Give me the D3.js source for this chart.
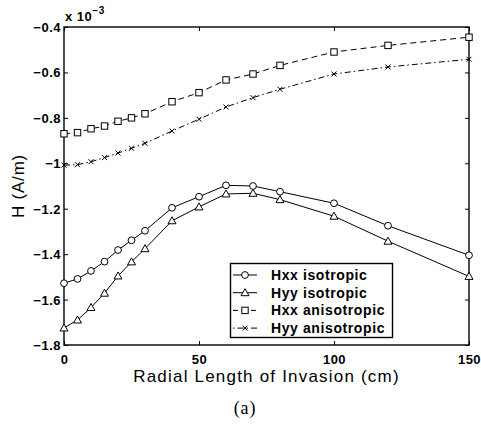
<!DOCTYPE html>
<html><head><meta charset="utf-8">
<script src="https://cdn.jsdelivr.net/npm/d3@7"></script>
<style>
html,body{margin:0;padding:0;background:#fff;}
svg{display:block;}
</style></head>
<body>
<script>
// ---- data ----
const radialLength = [0, 5, 10, 15, 20, 25, 30, 40, 50, 60, 70, 80, 100, 120, 150];
const hxxIsotropic = [-1.528, -1.509, -1.474, -1.433, -1.382, -1.339, -1.297, -1.196, -1.147, -1.097, -1.100, -1.125, -1.176, -1.275, -1.405];
const hyyIsotropic = [-1.725, -1.690, -1.635, -1.572, -1.496, -1.434, -1.376, -1.253, -1.192, -1.135, -1.132, -1.160, -1.233, -1.343, -1.498];
const hxxAnisotropic = [-0.870, -0.865, -0.848, -0.836, -0.815, -0.800, -0.782, -0.729, -0.689, -0.633, -0.607, -0.569, -0.510, -0.481, -0.445];
const hyyAnisotropic = [-1.008, -1.006, -0.993, -0.975, -0.955, -0.934, -0.912, -0.858, -0.806, -0.752, -0.711, -0.674, -0.607, -0.576, -0.542];
const seriesNames = ["Hxx isotropic", "Hyy isotropic", "Hxx anisotropic", "Hyy anisotropic"];
const xTicks = [0, 50, 100, 150];
const yTicks = [-1.8, -1.6, -1.4, -1.2, -1.0, -0.8, -0.6, -0.4];
const yTickLabels = ["\u22121.8", "\u22121.6", "\u22121.4", "\u22121.2", "\u22121", "\u22120.8", "\u22120.6", "\u22120.4"];
const xLabel = "Radial Length of Invasion (cm)";
const yLabel = "H (A/m)";
const caption = "(a)";

// ---- layout ----
const W = 481, H = 428;
const L = 64, R = 469, T = 27, B = 345;
const svg = d3.select("body").append("svg").attr("width", W).attr("height", H);

const x = d3.scaleLinear().domain([0, 150]).range([L, R]);
const y = d3.scaleLinear().domain([-1.8, -0.4]).range([B, T]);

const sansFont = "Liberation Sans, Arial, Helvetica, sans-serif";

// axes box
svg.append("rect").attr("x", L).attr("y", T).attr("width", R - L).attr("height", B - T)
  .attr("fill", "none").attr("stroke", "#000").attr("stroke-width", 1.4);

// axes with inward ticks
const tickLen = 4;
const gx = svg.append("g").attr("transform", `translate(0,${B})`)
  .call(d3.axisBottom(x).tickValues(xTicks).tickSizeInner(-tickLen).tickSizeOuter(0).tickPadding(10));
const gxTop = svg.append("g").attr("transform", `translate(0,${T})`)
  .call(d3.axisTop(x).tickValues(xTicks).tickSizeInner(-tickLen).tickSizeOuter(0).tickFormat(""));
const gy = svg.append("g").attr("transform", `translate(${L},0)`)
  .call(d3.axisLeft(y).tickValues(yTicks).tickSizeInner(-tickLen).tickSizeOuter(0).tickPadding(3)
    .tickFormat((d, i) => yTickLabels[i]));
const gyR = svg.append("g").attr("transform", `translate(${R},0)`)
  .call(d3.axisRight(y).tickValues(yTicks).tickSizeInner(-tickLen).tickSizeOuter(0).tickFormat(""));
[gx, gxTop, gy, gyR].forEach(g => {
  g.select(".domain").remove();
  g.selectAll(".tick line").attr("stroke", "#000").attr("stroke-width", 1);
  g.selectAll("text").attr("font-family", sansFont).attr("font-weight", "bold")
    .attr("font-size", 13).attr("letter-spacing", 0.5).attr("fill", "#000");
});
gx.selectAll("text").attr("dy", "0.71em");
gy.selectAll("text").attr("dy", "0.35em");

// exponent
const expo = svg.append("text").attr("x", 65).attr("y", 21)
  .attr("font-family", sansFont).attr("font-weight", "bold").attr("font-size", 13)
  .attr("letter-spacing", 0.5).attr("fill", "#000");
expo.append("tspan").text("x 10");
expo.append("tspan").attr("dy", -7).attr("font-size", 10).text("\u22123");

// series definitions
const allSeries = [
  {name: seriesNames[0], vals: hxxIsotropic, dash: null, marker: "circle"},
  {name: seriesNames[1], vals: hyyIsotropic, dash: null, marker: "triangle"},
  {name: seriesNames[2], vals: hxxAnisotropic, dash: "6,4", marker: "square"},
  {name: seriesNames[3], vals: hyyAnisotropic, dash: "6,3,1.5,3", marker: "cross"}
];

function drawMarker(g, type, cx, cy) {
  const s = g.append("g").attr("transform", `translate(${cx},${cy})`)
    .attr("fill", "none").attr("stroke", "#000").attr("stroke-width", 1);
  if (type === "circle") s.append("circle").attr("r", 3.4).attr("fill", "#fff");
  else if (type === "square") s.append("rect").attr("x", -3.2).attr("y", -3.2).attr("width", 6.4).attr("height", 6.4).attr("fill", "#fff");
  else if (type === "triangle") s.append("path").attr("d", "M0,-4L4,3L-4,3Z").attr("fill", "#fff");
  else if (type === "cross") s.append("path").attr("d", "M-2.5,-2.5L2.5,2.5M-2.5,2.5L2.5,-2.5");
}

const line = d3.line().x(d => x(d[0])).y(d => y(d[1]));
allSeries.forEach(s => {
  const pts = radialLength.map((r, i) => [r, s.vals[i]]);
  svg.append("path").datum(pts).attr("d", line).attr("fill", "none")
    .attr("stroke", "#000").attr("stroke-width", 1)
    .attr("stroke-dasharray", s.dash);
  const mg = svg.append("g");
  pts.forEach(p => drawMarker(mg, s.marker, x(p[0]), y(p[1])));
});

// legend
const lg = svg.append("g");
lg.append("rect").attr("x", 230.5).attr("y", 263.5).attr("width", 162).attr("height", 74)
  .attr("fill", "#fff").attr("stroke", "#000").attr("stroke-width", 1.4);
allSeries.forEach((s, i) => {
  const cy = 275 + i * 17.7;
  lg.append("line").attr("x1", 233).attr("x2", 257).attr("y1", cy).attr("y2", cy)
    .attr("stroke", "#000").attr("stroke-width", 1).attr("stroke-dasharray", s.dash ? (s.marker === "cross" ? "1.5,3,6,3" : "5,4") : null);
  drawMarker(lg, s.marker, 245, cy);
  lg.append("text").attr("x", 271).attr("y", cy).attr("dy", "0.36em")
    .attr("font-family", sansFont).attr("font-weight", "bold").attr("font-size", 14)
    .attr("letter-spacing", 0.6).attr("fill", "#000")
    .text(s.name);
});

// axis titles
svg.append("text").attr("x", (L + R) / 2).attr("y", 382).attr("text-anchor", "middle")
  .attr("font-family", sansFont).attr("font-size", 17).attr("letter-spacing", 1.2).attr("fill", "#000").text(xLabel);
svg.append("text").attr("transform", `translate(24,${(T + B) / 2}) rotate(-90)`).attr("text-anchor", "middle")
  .attr("font-family", sansFont).attr("font-size", 17).attr("letter-spacing", 0.8).attr("fill", "#000").text(yLabel);
svg.append("text").attr("x", 245).attr("y", 414).attr("text-anchor", "middle")
  .attr("font-family", "Liberation Serif, Times New Roman, serif").attr("font-size", 18)
  .attr("letter-spacing", 0.8).attr("fill", "#000").text(caption);
</script>
</body></html>
